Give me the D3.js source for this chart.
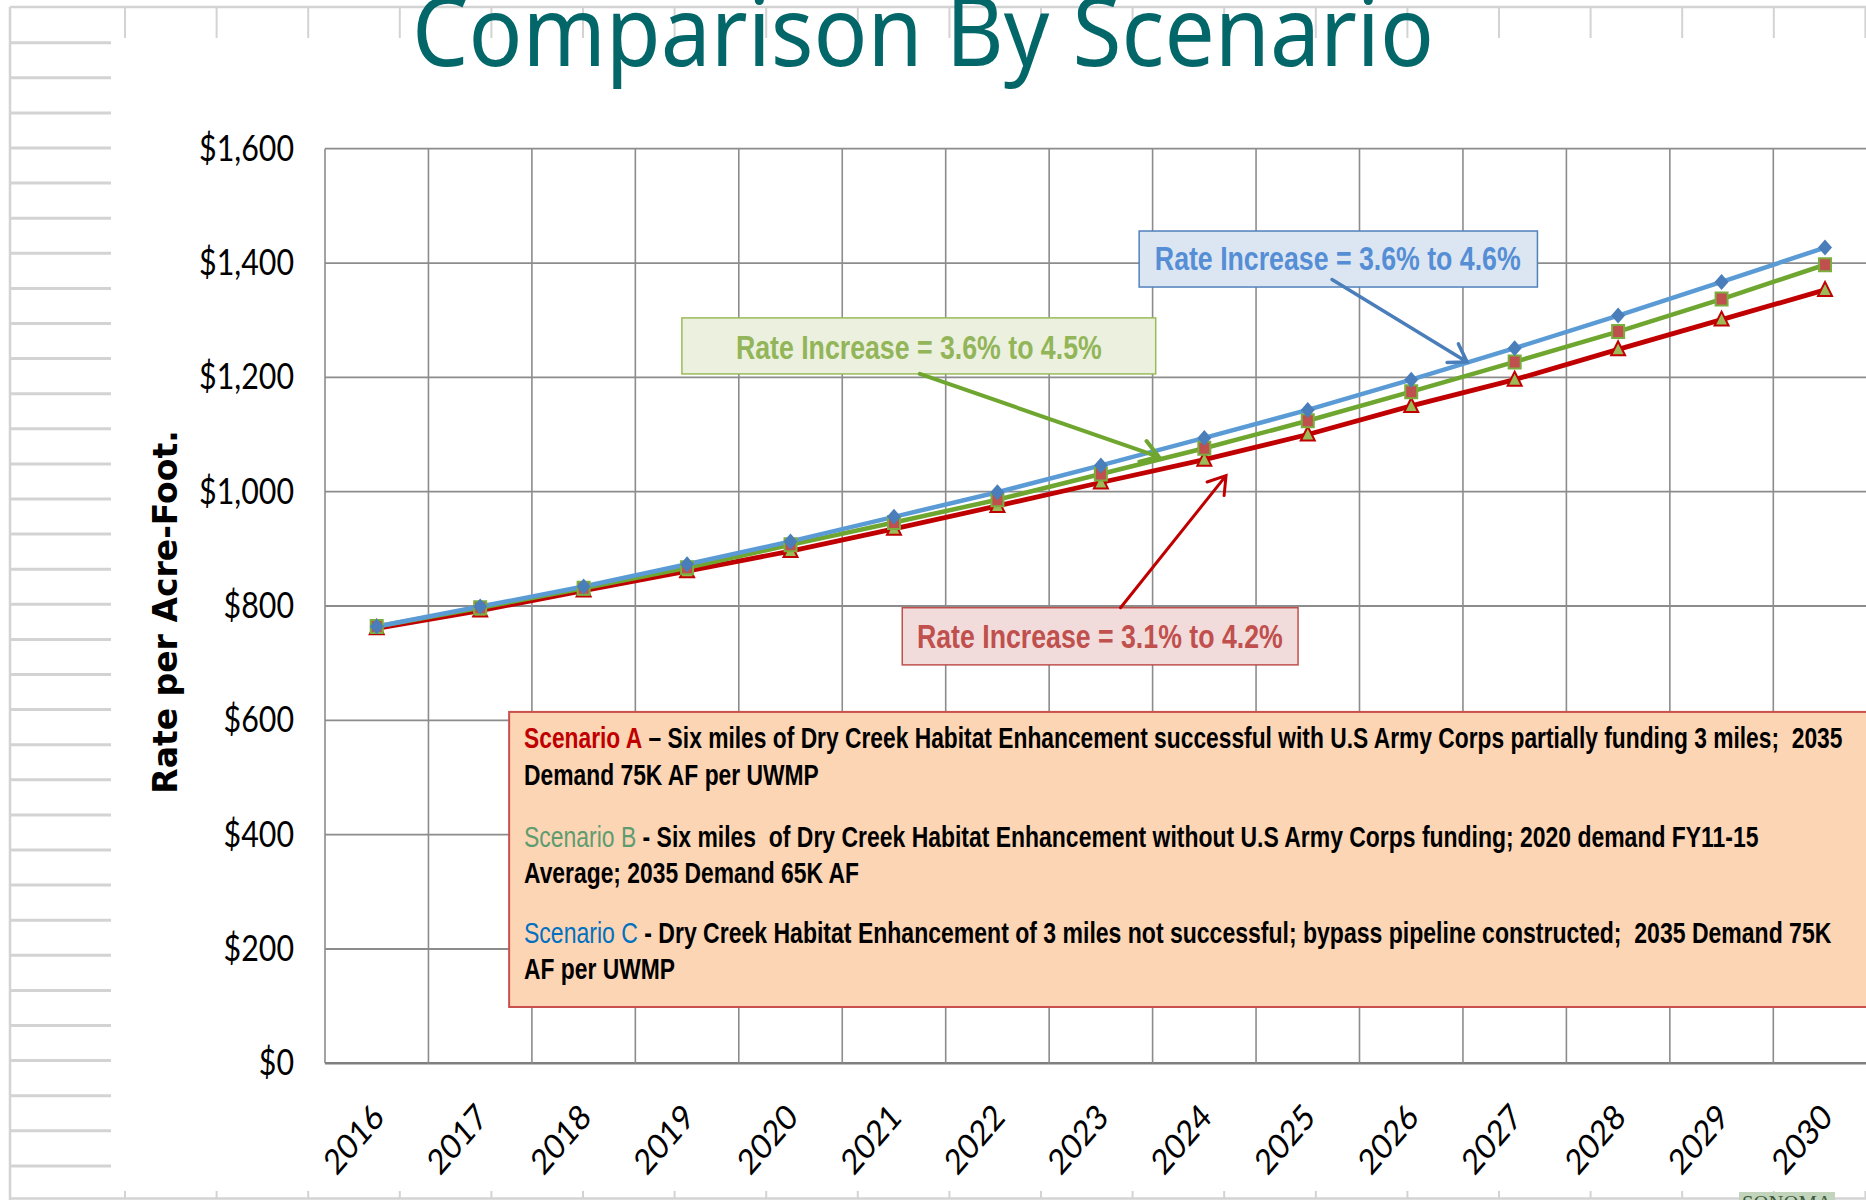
<!DOCTYPE html>
<html><head><meta charset="utf-8">
<script src="https://cdn.jsdelivr.net/npm/d3@7"></script>
<style>
html,body{margin:0;padding:0;background:#fff;overflow:hidden}
svg{display:block}
</style></head><body>
<svg id="chart" width="1866" height="1200"></svg>
<script>
// ---------------- DATA ----------------
const years = ["2016","2017","2018","2019","2020","2021","2022","2023","2024","2025","2026","2027","2028","2029","2030"];
const scenarioA = [761, 792, 827, 861, 896, 935, 975, 1016, 1056, 1100, 1150, 1196, 1249, 1301, 1353];
const scenarioB = [764, 797, 831, 867, 907, 946, 986, 1031, 1076, 1124, 1175, 1227, 1280, 1337, 1397];
const scenarioC = [764, 799, 834, 873, 913, 956, 999, 1046, 1094, 1143, 1196, 1251, 1308, 1367, 1427];
const yTicks = [0, 200, 400, 600, 800, 1000, 1200, 1400, 1600];
const titleText = "Comparison By Scenario";
const yAxisTitle = "Rate per Acre-Foot.";
const rateNotes = ["Rate Increase = 3.6% to 4.6%", "Rate Increase = 3.6% to 4.5%", "Rate Increase = 3.1% to 4.2%"];
const scenarioNames = ["Scenario A", "Scenario B", "Scenario C"];
const scenarioLines = [
  [" \u2013 Six miles of Dry Creek Habitat Enhancement successful with U.S Army Corps partially funding 3 miles;  2035", "Demand 75K AF per UWMP"],
  [" - Six miles  of Dry Creek Habitat Enhancement without U.S Army Corps funding; 2020 demand FY11-15", "Average; 2035 Demand 65K AF"],
  [" - Dry Creek Habitat Enhancement of 3 miles not successful; bypass pipeline constructed;  2035 Demand 75K", "AF per UWMP"]
];

// ---------------- LAYOUT ----------------
const W = 1866, H = 1200;
const plot = {left: 325, top: 148.7, bottom: 1063.3, bandW: 103.45};
const svg = d3.select("#chart");

const x = d3.scaleBand().domain(years).range([plot.left, plot.left + plot.bandW * years.length]).paddingInner(0).paddingOuter(0);
const xIdx = d3.scaleLinear().domain([0, years.length]).range(x.range());
const y = d3.scaleLinear().domain([0, 1600]).range([plot.bottom, plot.top]);
const cx = d => x(d) + x.bandwidth() / 2;

// ---------- spreadsheet-like background decoration ----------
const deco = svg.append("g").attr("stroke", "#d3d3d3").attr("fill", "none");
deco.append("line").attr("x1", 10).attr("x2", W).attr("y1", 7).attr("y2", 7).attr("stroke-width", 2.5);
deco.append("line").attr("x1", 10).attr("x2", 10).attr("y1", 7).attr("y2", H).attr("stroke-width", 2.5);
deco.append("line").attr("x1", 10).attr("x2", W).attr("y1", 1198.5).attr("y2", 1198.5).attr("stroke-width", 2.5);
d3.range(42.7, H, 35.1).forEach(yy => {
  deco.append("line").attr("x1", 10).attr("x2", 111).attr("y1", yy).attr("y2", yy).attr("stroke-width", 3);
});
d3.range(125, W, 91.6).forEach(xx => {
  deco.append("line").attr("x1", xx).attr("x2", xx).attr("y1", 7).attr("y2", 38).attr("stroke-width", 2);
  deco.append("line").attr("x1", xx).attr("x2", xx).attr("y1", 1191).attr("y2", 1199).attr("stroke-width", 2);
});

// ---------- title ----------
const titleG = svg.append("g");
const title = titleG.append("text").text(titleText)
  .attr("font-family", "'Noto Sans', 'Open Sans', sans-serif").attr("font-size", 97)
  .attr("fill", "#03676A");
{
  const w = title.node().getBBox().width;
  titleG.attr("transform", `translate(412,66) scale(${1022 / w},1)`);
}

// ---------- gridlines ----------
const grid = svg.append("g");
grid.append("g").selectAll("line").data(yTicks).join("line")
  .attr("x1", plot.left).attr("x2", W).attr("y1", d => y(d)).attr("y2", d => y(d))
  .attr("stroke", d => d === 0 ? "#7f7f7f" : "#8c8c8c").attr("stroke-width", d => d === 0 ? 2.5 : 1.8);
grid.append("g").selectAll("line").data(years).join("line")
  .attr("x1", d => x(d)).attr("x2", d => x(d)).attr("y1", y(1600)).attr("y2", y(0))
  .attr("stroke", "#8c8c8c").attr("stroke-width", 1.6);

// ---------- y axis ----------
const yAxisG = svg.append("g").attr("transform", `translate(${plot.left},0)`)
  .call(d3.axisLeft(y).tickValues(yTicks).tickSize(0).tickPadding(31).tickFormat(d => "$" + d3.format(",")(d)));
yAxisG.select(".domain").remove();
yAxisG.selectAll("text").attr("font-family", "Lato, 'Open Sans', sans-serif").attr("font-size", 36).attr("fill", "#000");
{
  const ref = yAxisG.selectAll("text").filter(d => d === 1600).node();
  const s = 95 / ref.getComputedTextLength();
  yAxisG.selectAll("text").attr("transform", `scale(${s},1)`).attr("x", -31 / s);
}

// ---------- x axis ----------
const xAxisG = svg.append("g").attr("transform", `translate(0,${plot.bottom})`)
  .call(d3.axisBottom(x).tickSize(0).tickPadding(0));
xAxisG.select(".domain").remove();
xAxisG.selectAll("text").attr("font-family", "Lato, 'Open Sans', sans-serif").attr("font-size", 35).attr("fill", "#000")
  .attr("text-anchor", "middle").attr("y", 0).attr("dy", "0.35em")
  .attr("transform", `translate(-23,76) scale(0.86,1) rotate(-45)`);

// ---------- y axis title ----------
svg.append("text").text(yAxisTitle)
  .attr("transform", `translate(177,${(y(1600) + y(0)) / 2 + 6}) rotate(-90)`)
  .attr("text-anchor", "middle").attr("font-family", "'DejaVu Sans', sans-serif")
  .attr("font-weight", "bold").attr("font-size", 33).attr("fill", "#000");

// ---------- series ----------
const series = [
  {vals: scenarioA, line: "#C00000", width: 4.8, marker: "triangle", fill: "#9BBB59", stroke: "#C00000"},
  {vals: scenarioB, line: "#6EA630", width: 4.5, marker: "square", fill: "#C0504D", stroke: "#7BAE3F"},
  {vals: scenarioC, line: "#5B9BD5", width: 4.5, marker: "diamond", fill: "#4A7EBB", stroke: "none"}
];
const lineGen = d3.line().x((d, i) => cx(years[i])).y(d => y(d));
const shapes = {
  triangle: "M0,-8L7,6L-7,6Z",
  square: "M-6,-6.5L6,-6.5L6,6.5L-6,6.5Z",
  diamond: "M0,-8L7,0L0,8L-7,0Z"
};
const seriesG = svg.append("g");
series.forEach(s => {
  seriesG.append("path").datum(s.vals).attr("d", lineGen)
    .attr("fill", "none").attr("stroke", s.line).attr("stroke-width", s.width).attr("stroke-linejoin", "round");
});
series.forEach(s => {
  seriesG.append("g").selectAll("path").data(s.vals).join("path")
    .attr("d", shapes[s.marker])
    .attr("transform", (d, i) => `translate(${cx(years[i])},${y(d)})`)
    .attr("fill", s.fill).attr("stroke", s.stroke).attr("stroke-width", 2);
});

// ---------- rate increase call-outs ----------
const callouts = [
  {text: rateNotes[0], box: [7.87, 11.72, 1456, 1358], tx: 9.79, base: 1388, from: [9.734, 1371], to: [11.04, 1227],
   fill: "#DCE6F2", border: "#4F81BD", color: "#558ED5", arrow: "#4A7EBB", aw: 3.5},
  {text: rateNotes[1], box: [3.45, 8.03, 1304, 1206], tx: 5.74, base: 1232, from: [5.75, 1206], to: [8.06, 1061],
   fill: "#EBF1DE", border: "#9BBB59", color: "#93B559", arrow: "#6EA630", aw: 4},
  {text: rateNotes[2], box: [5.58, 9.406, 797, 697], tx: 7.49, base: 727, from: [7.69, 797], to: [8.71, 1028],
   fill: "#F2DCDB", border: "#C0504D", color: "#C0504D", arrow: "#C00000", aw: 3}
];
const calloutG = svg.append("g");
callouts.forEach(c => {
  const x0 = xIdx(c.box[0]), x1 = xIdx(c.box[1]), y0 = y(c.box[2]), y1 = y(c.box[3]);
  calloutG.append("rect").attr("x", x0).attr("y", y0).attr("width", x1 - x0).attr("height", y1 - y0)
    .attr("fill", c.fill).attr("stroke", c.border).attr("stroke-width", 1.5);
  const g = calloutG.append("g");
  const t = g.append("text").text(c.text).attr("text-anchor", "middle")
    .attr("font-family", "'Liberation Sans Narrow', 'Arial Narrow', 'Liberation Sans', Arial, sans-serif")
    .attr("font-weight", "bold").attr("font-size", 34).attr("fill", c.color);
  const w = t.node().getComputedTextLength();
  g.attr("transform", `translate(${xIdx(c.tx)},${y(c.base)}) scale(${366 / w},1)`);
  // arrow
  const ax = xIdx(c.from[0]), ay = y(c.from[1]), bx = xIdx(c.to[0]), by = y(c.to[1]);
  const ang = Math.atan2(by - ay, bx - ax), L = 20, spread = 33 * Math.PI / 180;
  const p1 = [bx - L * Math.cos(ang - spread), by - L * Math.sin(ang - spread)];
  const p2 = [bx - L * Math.cos(ang + spread), by - L * Math.sin(ang + spread)];
  calloutG.append("path")
    .attr("d", `M${ax},${ay}L${bx},${by}M${p1[0]},${p1[1]}L${bx},${by}L${p2[0]},${p2[1]}`)
    .attr("fill", "none").attr("stroke", c.arrow).attr("stroke-width", c.aw)
    .attr("stroke-linecap", "round").attr("stroke-linejoin", "miter");
});

// ---------- scenario description box ----------
const scenColors = ["#C00000", "#5E9C70", "#0070C0"];
const bx0 = xIdx(1.78), by0 = y(614.7), by1 = y(98.5);
svg.append("rect").attr("x", bx0).attr("y", by0).attr("width", W + 10 - bx0).attr("height", by1 - by0)
  .attr("fill", "#FCD5B5").attr("stroke", "#C9504D").attr("stroke-width", 2);
const lineBase = [[36, 73], [135, 171], [231, 267]];
const lineWidths = [[1318, 295], [1235, 335], [1308, 151]];
const textX = 524;
scenarioLines.forEach((pair, k) => {
  pair.forEach((str, j) => {
    const g = svg.append("g");
    const t = g.append("text").attr("font-family", "'Liberation Sans Narrow', 'Arial Narrow', 'Liberation Sans', Arial, sans-serif")
      .attr("font-weight", "bold").attr("font-size", 29).attr("fill", "#000").style("white-space", "pre");
    if (j === 0) {
      t.append("tspan").text(scenarioNames[k]).attr("fill", scenColors[k]).attr("font-weight", k === 0 ? "bold" : "normal");
      t.append("tspan").text(str);
    } else {
      t.text(str);
    }
    const w = t.node().getComputedTextLength();
    g.attr("transform", `translate(${textX},${by0 + lineBase[k][j]}) scale(${lineWidths[k][j] / w},1)`);
  });
});

// ---------- logo strip ----------
svg.append("rect").attr("x", 1739).attr("y", 1192).attr("width", 96).attr("height", 10).attr("fill", "#c3d4bd");
svg.append("text").text("SONOMA").attr("x", 1742).attr("y", 1210)
  .attr("font-family", "'Liberation Serif', serif").attr("font-size", 22).attr("fill", "#3d5a3d")
  .attr("textLength", 90).attr("lengthAdjust", "spacingAndGlyphs");
</script>
</body></html>
